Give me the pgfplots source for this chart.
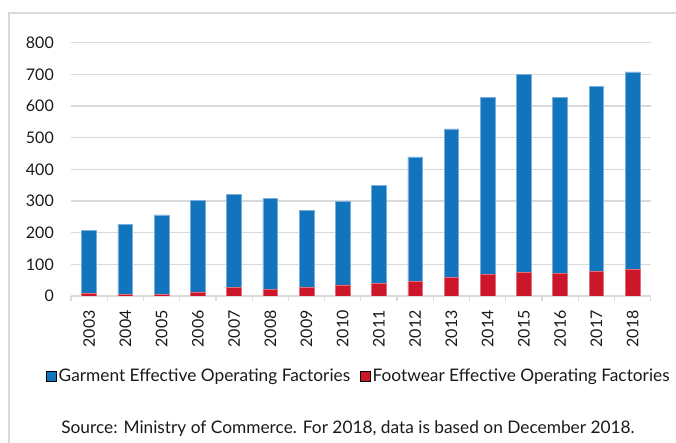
\documentclass[border=0pt]{standalone}
\usepackage{pgfplots}
\pgfplotsset{compat=1.18}
\usepackage{pgfplotstable}
\usepackage{fontspec}
\setmainfont{Lato}

\definecolor{garment}{RGB}{17,116,189}
\definecolor{garmentedge}{RGB}{120,175,220}
\definecolor{footwear}{RGB}{204,22,41}
\definecolor{footwearedge}{RGB}{225,110,120}
\definecolor{gridgray}{RGB}{217,217,217}
\definecolor{textgray}{RGB}{26,26,26}

% Effective operating factories per year
\pgfplotstableread{
idx year footwear garment
0  2003  8  198
1  2004  6  221
2  2005  6  250
3  2006 13  290
4  2007 28  293
5  2008 22  285
6  2009 26  244
7  2010 35  263
8  2011 40  310
9  2012 47  392
10 2013 59  469
11 2014 69  557
12 2015 74  625
13 2016 71  555
14 2017 78  583
15 2018 83  625
}\factories

\begin{document}
\begin{tikzpicture}[x=1bp,y=1bp]
\useasboundingbox (0,0) rectangle (676,443);
\draw[gridgray, line width=1.2bp] (9,-20) rectangle (700,430);
\begin{axis}[
  at={(71bp,147bp)}, anchor=south west,
  scale only axis, width=579.7bp, height=253.3bp,
  xmin=-0.5, xmax=15.5, ymin=0, ymax=800,
  ybar stacked, bar width=14.7bp,
  axis x line*=bottom, axis y line*=left,
  x axis line style={-, gridgray, line width=1.2bp},
  y axis line style={draw=none},
  xtick={0,...,15},
  xticklabels from table={\factories}{year},
  minor xtick={-0.5,0.5,...,15.5},
  major tick length=0pt, minor tick length=5bp,
  tick align=outside,
  minor x tick style={gridgray, line width=1.2bp},
  major tick style={draw=none},
  ytick={0,100,...,800},
  ymajorgrids, grid style={gridgray, line width=1.2bp},
  /pgf/number format/assume math mode=true,
  tick label style={font=\fontsize{16bp}{19bp}\selectfont, text=textgray, inner sep=0pt},
  xticklabel style={rotate=90, anchor=east},
  xticklabel shift=14bp,
  yticklabel shift=17bp,
  legend columns=2,
  legend style={at={(0.4968,-0.3158)}, anchor=center, draw=none, fill=none,
    font=\fontsize{17.3bp}{20bp}\selectfont, text=textgray,
    /tikz/every even column/.append style={column sep=8bp},
    nodes={inner sep=2bp}},
  legend image code/.code={\fill[#1] (0bp,-5bp) rectangle (10bp,5bp);},
]
\addplot[fill=footwear, draw=footwearedge, line width=0.6bp, forget plot]
  table[x=idx, y=footwear] {\factories};
\addplot[fill=garment, draw=garmentedge, line width=0.6bp, forget plot]
  table[x=idx, y=garment] {\factories};
\addlegendimage{fill=garment}
\addlegendentry{Garment Effective Operating Factories}
\addlegendimage{fill=footwear}
\addlegendentry{Footwear Effective Operating Factories}
\end{axis}
\node[anchor=base, text=textgray, font=\fontsize{17.3bp}{20bp}\selectfont] at (348bp,9bp)
  {Source: Ministry of Commerce. For 2018, data is based on December 2018.};
\end{tikzpicture}
\end{document}
